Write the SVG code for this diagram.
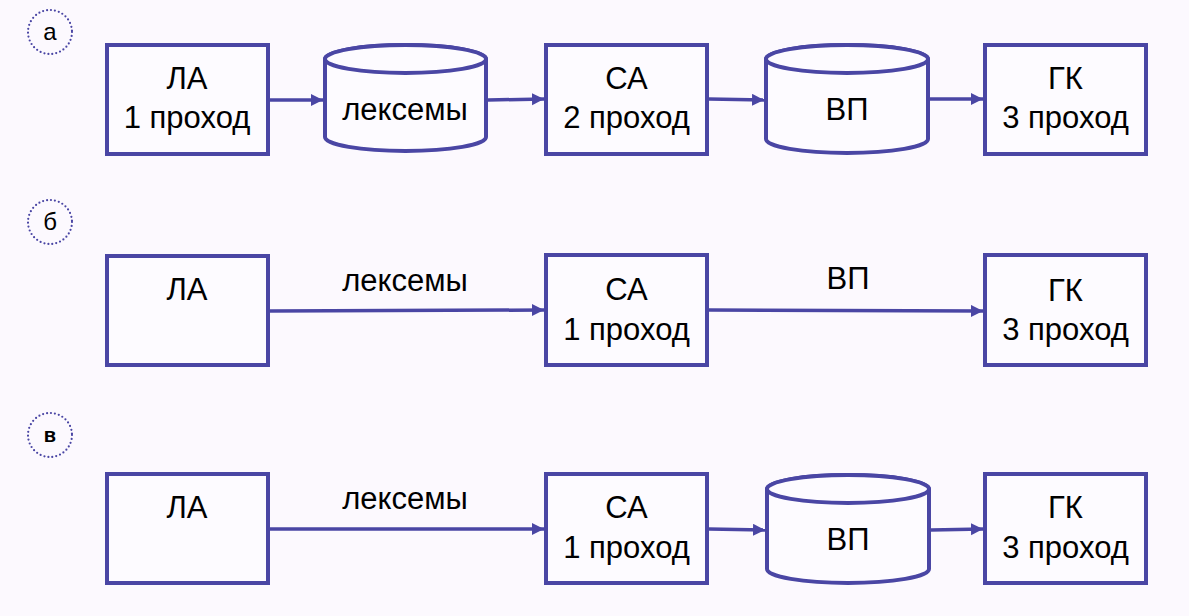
<svg xmlns="http://www.w3.org/2000/svg" width="1189" height="616" viewBox="0 0 1189 616">
<style>
.bg{fill:#fcf9fe}
.box{fill:#fdfbff;stroke:#4a46a4;stroke-width:4}
.cyl{fill:#fdfbff;stroke:#4a46a4;stroke-width:4}
.badge{fill:none;stroke:#4a46a4;stroke-width:2.2;stroke-dasharray:0 4;stroke-linecap:round}
.t{font-family:"Liberation Sans","DejaVu Sans",sans-serif;font-size:31px;fill:#000;text-anchor:middle}
.b{font-family:"Liberation Sans","DejaVu Sans",sans-serif;font-size:24px;fill:#000;text-anchor:middle}
.c{fill:none;stroke:#4a46a4;stroke-width:3.5}
</style>
<defs>
<marker id="ah" markerUnits="userSpaceOnUse" markerWidth="14" markerHeight="14" refX="12" refY="6" orient="auto">
<path d="M0,0 L12,6 L0,12 Z" fill="#4a46a4"/>
</marker>
</defs>
<rect class="bg" x="0" y="0" width="1189" height="616"/>

<g id="badge-a"><circle class="badge" cx="50" cy="32" r="22"/><text class="b" x="50" y="40">а</text></g>
<g id="badge-b"><circle class="badge" cx="50" cy="222" r="22"/><text class="b" x="50" y="230">б</text></g>
<g id="badge-c"><circle class="badge" cx="50" cy="435" r="22"/><text class="b" x="50" y="442" style="font-size:20px;font-weight:bold">в</text></g>

<!-- row a -->
<g id="a-la"><rect class="box" x="107" y="45" width="161" height="109"/><text class="t" x="187" y="89">ЛА</text><text class="t" x="187" y="128">1 проход</text></g>
<g id="a-lex"><path class="cyl" d="M325,59 V137 A80.5,14 0 0 0 486,137 V59 A80.5,14 0 0 0 325,59 Z"/><ellipse class="cyl" cx="405.5" cy="59" rx="80.5" ry="14"/><text class="t" x="405" y="120">лексемы</text></g>
<g id="a-sa"><rect class="box" x="546" y="45" width="161" height="109"/><text class="t" x="626.5" y="89">СА</text><text class="t" x="626.5" y="128">2 проход</text></g>
<g id="a-vp"><path class="cyl" d="M766,59 V139 A81,14 0 0 0 928,139 V59 A81,14 0 0 0 766,59 Z"/><ellipse class="cyl" cx="847" cy="59" rx="81" ry="14"/><text class="t" x="847" y="120">ВП</text></g>
<g id="a-gk"><rect class="box" x="985" y="45" width="161" height="109"/><text class="t" x="1065.5" y="89">ГК</text><text class="t" x="1065.5" y="128">3 проход</text></g>

<!-- row b -->
<g id="b-la"><rect class="box" x="107" y="256" width="161" height="109"/><text class="t" x="187" y="300">ЛА</text></g>
<g id="b-sa"><rect class="box" x="546" y="255" width="161" height="110"/><text class="t" x="626.5" y="300">СА</text><text class="t" x="626.5" y="340">1 проход</text></g>
<g id="b-gk"><rect class="box" x="985" y="255" width="161" height="110"/><text class="t" x="1065.5" y="301">ГК</text><text class="t" x="1065.5" y="340">3 проход</text></g>

<!-- row c -->
<g id="c-la"><rect class="box" x="107" y="474" width="161" height="109"/><text class="t" x="187" y="518">ЛА</text></g>
<g id="c-sa"><rect class="box" x="546" y="474" width="161" height="109"/><text class="t" x="626.5" y="518">СА</text><text class="t" x="626.5" y="558">1 проход</text></g>
<g id="c-vp"><path class="cyl" d="M767,489 V569 A81,14 0 0 0 929,569 V489 A81,14 0 0 0 767,489 Z"/><ellipse class="cyl" cx="848" cy="489" rx="81" ry="14"/><text class="t" x="848" y="550">ВП</text></g>
<g id="c-gk"><rect class="box" x="985" y="474" width="161" height="109"/><text class="t" x="1065.5" y="518">ГК</text><text class="t" x="1065.5" y="558">3 проход</text></g>

<g id="connectors">
<line class="c" x1="270" y1="100" x2="323" y2="100" marker-end="url(#ah)"/>
<line class="c" x1="488" y1="100" x2="544" y2="99" marker-end="url(#ah)"/>
<line class="c" x1="709" y1="99" x2="764" y2="100" marker-end="url(#ah)"/>
<line class="c" x1="930" y1="99" x2="983" y2="99" marker-end="url(#ah)"/>
<line class="c" x1="270" y1="311" x2="544" y2="310" marker-end="url(#ah)"/>
<line class="c" x1="709" y1="310" x2="983" y2="311" marker-end="url(#ah)"/>
<line class="c" x1="270" y1="529" x2="544" y2="529" marker-end="url(#ah)"/>
<line class="c" x1="709" y1="529" x2="765" y2="530" marker-end="url(#ah)"/>
<line class="c" x1="931" y1="530" x2="983" y2="529" marker-end="url(#ah)"/>
<text class="t" x="405" y="291">лексемы</text>
<text class="t" x="848" y="289">ВП</text>
<text class="t" x="405" y="509">лексемы</text>
</g>
</svg>
